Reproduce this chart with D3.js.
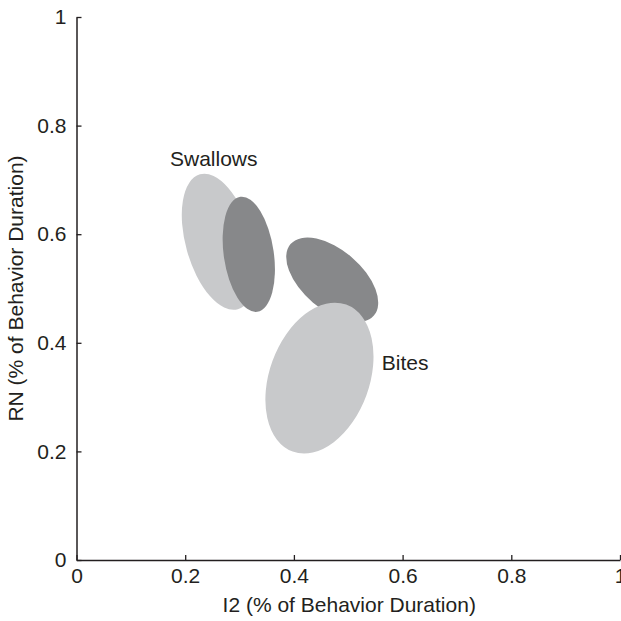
<!DOCTYPE html>
<html>
<head>
<meta charset="utf-8">
<script src="https://cdn.jsdelivr.net/npm/d3@7"></script>
<style>
  body { margin: 0; background: #fff; }
  text { font-family: "Liberation Sans", Arial, sans-serif; fill: #231f20; }
</style>
</head>
<body>
<div id="chart"></div>
<script>
// ellipse data (data units), angle in screen degrees
var names  = ['swallowsA', 'swallowsB', 'bitesB', 'bitesA'];
var cx     = [0.262, 0.317, 0.4705, 0.447];
var cy     = [0.586, 0.563, 0.516, 0.335];
var rx     = [0.061, 0.046, 0.101, 0.092];
var ry     = [0.129, 0.107, 0.055, 0.144];
var angles = [-15.7, -8.4, 40.6, 20];
var shades = ['#c8c9cb', '#87888a', '#87888a', '#c8c9cb'];

var labels = ['Swallows', 'Bites'];
var labelX = [0.172, 0.5617];
var labelY = [0.7256, 0.349];

var xTicks = [0, 0.2, 0.4, 0.6, 0.8, 1];
var yTicks = [0, 0.2, 0.4, 0.6, 0.8, 1];

var fs = 21;
var margin = {top:17, bottom:61, right:1, left:76.5};
var w = 621 - margin.left - margin.right;
var h = 621 - margin.top - margin.bottom;

var svg = d3.select('#chart')
    .append('svg')
    .attr('width', 621)
    .attr('height', 621)
    .append('g')
    .attr('transform', 'translate(' + margin.left + ',' + margin.top + ')');

var x = d3.scaleLinear().domain([0, 1]).range([0, w]);
var y = d3.scaleLinear().domain([0, 1]).range([h, 0]);

// ellipses
var data = names.map(function(n, i) {
    return {name: n, cx: cx[i], cy: cy[i], rx: rx[i], ry: ry[i], a: angles[i], fill: shades[i]};
});
svg.selectAll('.ell')
    .data(data)
    .enter()
    .append('ellipse')
        .attr('class', 'ell')
        .attr('cx', 0)
        .attr('cy', 0)
        .attr('rx', function(d) { return x(d.rx) - x(0); })
        .attr('ry', function(d) { return y(0) - y(d.ry); })
        .attr('fill', function(d) { return d.fill; })
        .attr('transform', function(d) {
            return 'translate(' + x(d.cx) + ',' + y(d.cy) + ') rotate(' + d.a + ')';
        });

// axes
var xAxis = svg.append('g')
    .attr('transform', 'translate(0,' + h + ')')
    .call(d3.axisBottom(x).tickValues(xTicks).tickSizeInner(-5).tickSizeOuter(0).tickPadding(8)
        .tickFormat(function(d) { return d3.format('')(d); }));
var yAxis = svg.append('g')
    .call(d3.axisLeft(y).tickValues(yTicks).tickSizeInner(-5).tickSizeOuter(0).tickPadding(10)
        .tickFormat(function(d) { return d3.format('')(d); }));

[xAxis, yAxis].forEach(function(g) {
    g.select('.domain').attr('stroke', '#231f20').attr('stroke-width', 1.5);
    g.selectAll('.tick line').attr('stroke', '#231f20').attr('stroke-width', 1.3);
    g.selectAll('.tick text').attr('font-size', fs).attr('fill', '#231f20')
        .attr('font-family', '"Liberation Sans", Arial, sans-serif');
});

// annotations
svg.selectAll('.lab')
    .data(labels)
    .enter()
    .append('text')
        .attr('class', 'lab')
        .attr('x', function(d, i) { return x(labelX[i]); })
        .attr('y', function(d, i) { return y(labelY[i]); })
        .attr('font-size', fs)
        .text(function(d) { return d; });

// axis titles
svg.append('text')
    .attr('x', w / 2 + 1)
    .attr('y', h + 52)
    .attr('text-anchor', 'middle')
    .attr('font-size', fs)
    .text('I2 (% of Behavior Duration)');

svg.append('text')
    .attr('transform', 'translate(' + (-53.5) + ',' + (h / 2) + ') rotate(-90)')
    .attr('text-anchor', 'middle')
    .attr('font-size', fs)
    .text('RN (% of Behavior Duration)');
</script>
</body>
</html>
